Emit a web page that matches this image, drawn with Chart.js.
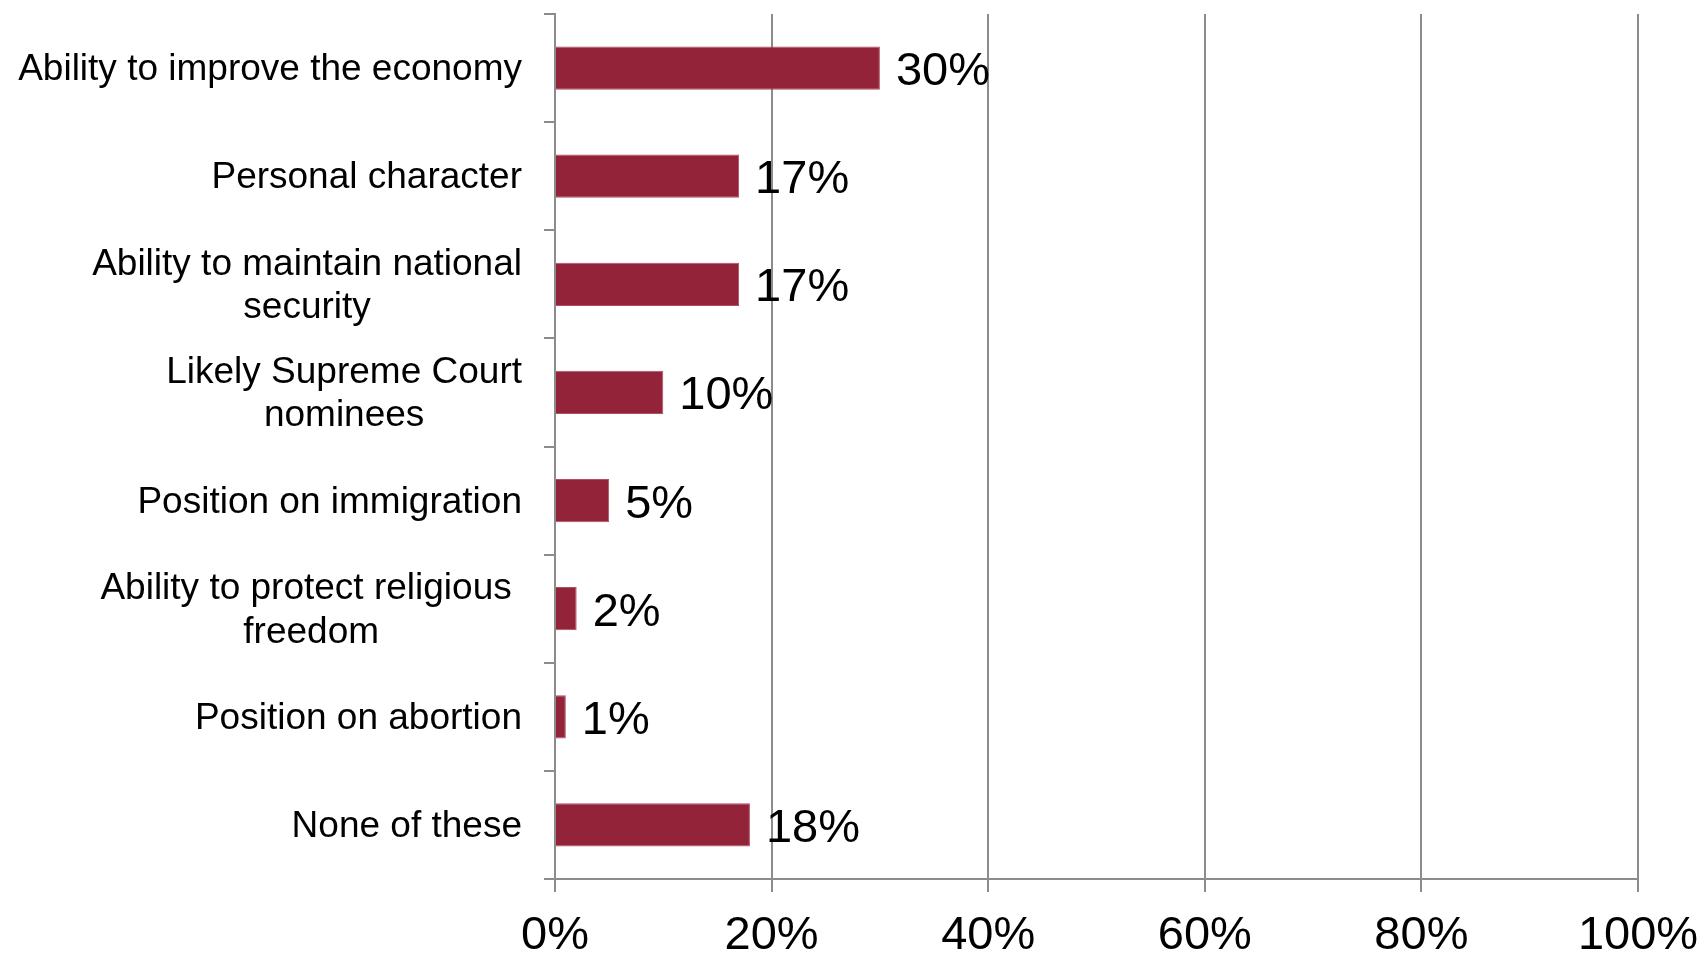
<!DOCTYPE html>
<html>
<head>
<meta charset="utf-8">
<script src="https://cdn.jsdelivr.net/npm/chart.js@4/dist/chart.umd.min.js"></script>
<style>
  html, body { margin: 0; padding: 0; background: #fff; }
  canvas { display: block; }
</style>
</head>
<body>
<canvas id="factorsChart" width="1704" height="954"></canvas>
<script>
// Survey: most important factor when choosing a candidate
const categories = [
  ['Ability to improve the economy'],
  ['Personal character'],
  ['Ability to maintain national', 'security'],
  ['Likely Supreme Court', 'nominees'],
  ['Position on immigration'],
  ['Ability to protect religious ', 'freedom'],
  ['Position on abortion'],
  ['None of these']
];
const shares = [30, 17, 17, 10, 5, 2, 1, 18];
const tickValues = [0, 20, 40, 60, 80, 100];

const FONT = '"Liberation Sans", Arial, sans-serif';
const GRID = '#8c8c8c';

Chart.defaults.font.family = FONT;

// Category names: lines centred on each other, block right-aligned to the axis
const categoryLabels = {
  id: 'categoryLabels',
  afterDraw(chart) {
    const ctx = chart.ctx;
    const yScale = chart.scales.y;
    const rightEdge = yScale.right - 33;
    const lineHeight = 43.5;
    ctx.save();
    ctx.font = '37px ' + FONT;
    ctx.fillStyle = '#000';
    ctx.textAlign = 'center';
    ctx.textBaseline = 'middle';
    categories.forEach((lines, i) => {
      const cy = yScale.getPixelForValue(i) + 2;
      const widest = Math.max(...lines.map(l => ctx.measureText(l).width));
      const cx = rightEdge - widest / 2;
      lines.forEach((line, j) => {
        const y = cy + (j - (lines.length - 1) / 2) * lineHeight;
        ctx.fillText(line, cx, y);
      });
    });
    ctx.restore();
  }
};

// Percentage next to the end of each bar
const valueLabels = {
  id: 'valueLabels',
  afterDatasetsDraw(chart) {
    const ctx = chart.ctx;
    const meta = chart.getDatasetMeta(0);
    ctx.save();
    ctx.font = '47px ' + FONT;
    ctx.fillStyle = '#000';
    ctx.textAlign = 'left';
    ctx.textBaseline = 'middle';
    meta.data.forEach((bar, i) => {
      ctx.fillText(shares[i] + '%', bar.x + 16, bar.y + 4);
    });
    ctx.restore();
  }
};

new Chart(document.getElementById('factorsChart'), {
  type: 'bar',
  data: {
    labels: categories,
    datasets: [{
      data: shares,
      backgroundColor: '#922339',
      borderColor: '#b04f62',
      borderWidth: 1,
      barPercentage: 0.4,
      categoryPercentage: 1
    }]
  },
  options: {
    indexAxis: 'y',
    responsive: false,
    animation: false,
    layout: { padding: { top: 14, right: 66, left: 0, bottom: 0 } },
    plugins: {
      legend: { display: false },
      tooltip: { enabled: false }
    },
    scales: {
      y: {
        position: 'left',
        offset: true,
        afterFit(scale) { scale.width = 555; },
        ticks: { display: false },
        grid: {
          offset: true,
          drawOnChartArea: false,
          drawTicks: true,
          tickLength: 11,
          color: GRID,
          lineWidth: 2
        },
        border: { display: true, color: GRID, width: 2 }
      },
      x: {
        position: 'bottom',
        min: 0,
        max: 100,
        afterFit(scale) {
          scale.height = 75;
          scale.paddingLeft = 0;
          scale.paddingRight = 0;
        },
        afterBuildTicks(scale) {
          scale.ticks = tickValues.map(v => ({ value: v }));
        },
        ticks: {
          padding: 16,
          color: '#000',
          font: { size: 47 },
          maxRotation: 0,
          callback: v => v + '%'
        },
        grid: {
          color: GRID,
          lineWidth: 2,
          tickLength: 13
        },
        border: { display: true, color: GRID, width: 2 }
      }
    }
  },
  plugins: [categoryLabels, valueLabels]
});
</script>
</body>
</html>
